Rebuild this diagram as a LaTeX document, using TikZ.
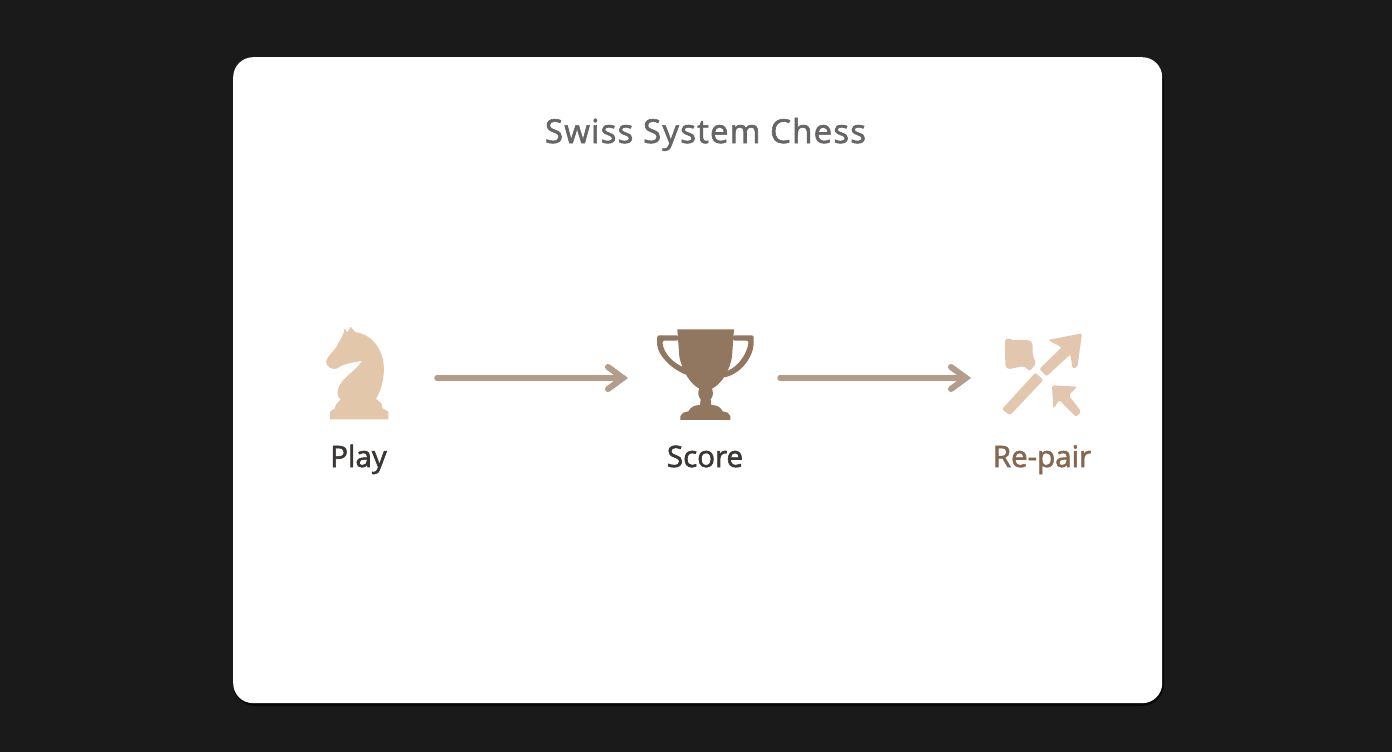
\documentclass[tikz,border=0pt]{standalone}
\usepackage{fontspec}
\setmainfont{Open Sans}
\newfontfamily\titlefont{Open Sans}[FakeBold=1.8,LetterSpace=3.6]
\newfontfamily\labelfont{Open Sans}[FakeBold=2]
\definecolor{bgdark}{HTML}{1A1A1A}
\definecolor{knight}{HTML}{E3C7AB}
\definecolor{trophy}{HTML}{917660}
\definecolor{pair}{HTML}{E3C6AE}
\definecolor{flow}{HTML}{B39C8A}
\definecolor{titlec}{HTML}{666464}
\definecolor{labeld}{HTML}{3A3634}
\definecolor{labelb}{HTML}{85674F}
\tikzset{
  x=1pt,y=-1pt,
  flowline/.style={draw=flow,line width=5.5pt,line cap=round},
  flowhead/.style={draw=flow,line width=6pt,line cap=round,line join=miter},
  steplabel/.style={inner sep=0pt,font=\labelfont\fontsize{29.5}{31}\selectfont,anchor=base},
  iconscope/.style={x=0.3333pt,y=-0.3333pt}
}
\begin{document}
\begin{tikzpicture}
\useasboundingbox (0,0) rectangle (1392,752);
\fill[bgdark] (0,0) rectangle (1392,752);
\fill[black!70!bgdark,rounded corners=22pt] (233,60) rectangle (1164,706);
\node[fill=white,rounded corners=20pt,minimum width=929pt,minimum height=646pt,inner sep=0pt,anchor=north west] (card) at (233,57) {};
\node[inner sep=0pt,anchor=base,text=titlec,font=\titlefont\fontsize{33}{36}\selectfont] (title) at (705.5,143) {Swiss System Chess};
% knight
\begin{scope}[shift={(300,310)},iconscope]
\fill[knight] (90,328) -- (90,305) -- (104,296) -- (108,284) -- (122,268)
 .. controls (110,258) and (110,245) .. (118,228)
 .. controls (133,198) and (165,185) .. (187,152)
 .. controls (160,158) and (130,160) .. (110,176)
 .. controls (95,180) and (80,170) .. (78,155)
 .. controls (80,140) and (105,122) .. (112,105)
 .. controls (120,90) and (130,80) .. (134,55)
 -- (142,68) -- (152,50) -- (165,66)
 .. controls (210,72) and (240,105) .. (250,155)
 .. controls (256,195) and (245,240) .. (228,266)
 -- (244,280) -- (248,295) -- (265,305) -- (265,328) -- cycle;
\end{scope}
% trophy
\begin{scope}[shift={(630,310)},iconscope]
\fill[trophy] (142,58) -- (312,58) -- (306,140)
 .. controls (300,180) and (275,222) .. (246,236)
 .. controls (250,248) and (250,258) .. (242,268) -- (244,285)
 .. controls (262,285) and (272,292) .. (278,304) -- (293,308) -- (301,318) -- (301,330)
 -- (151,330) -- (151,318) -- (160,308) -- (175,304)
 .. controls (182,292) and (192,285) .. (210,285) -- (212,268)
 .. controls (204,258) and (203,248) .. (208,236)
 .. controls (180,222) and (156,180) .. (148,140) -- cycle;
\fill[trophy,rounded corners=2pt] (145,76) -- (82,76) -- (81,100)
 .. controls (85,135) and (120,175) .. (175,197) -- (170,176)
 .. controls (130,160) and (100,130) .. (97,92) -- (145,92) -- cycle;
\fill[trophy,rounded corners=2pt] (309,76) -- (371,76) -- (371,100)
 .. controls (368,140) and (335,190) .. (280,203) -- (288,184)
 .. controls (325,170) and (352,130) .. (356,92) -- (309,92) -- cycle;
\end{scope}
% re-pair
\begin{scope}[shift={(960,310)},iconscope]
\fill[pair,rounded corners=2pt] (135,88) -- (146,83) -- (152,90) -- (208,90) -- (218,100)
 -- (218,135) -- (228,160) -- (210,183) -- (190,168) -- (145,178) -- (136,170) -- cycle;
\fill[pair,rounded corners=2pt] (264,90) -- (366,70) -- (352,172) -- (338,176) -- (331,133)
 -- (260,199) -- (238,177) -- (305,112) -- cycle;
\fill[pair,rounded corners=2pt] (226,188) -- (250,210) -- (150,316) -- (126,298) -- cycle;
\fill[pair,rounded corners=2pt] (276,226) -- (352,230) -- (326,256) -- (364,305) -- (348,321)
 -- (298,270) -- (280,296) -- cycle;
\end{scope}
\node[steplabel,text=labeld] (play) at (358.5,467) {Play};
\node[steplabel,text=labeld] (score) at (705,467) {Score};
\node[steplabel,text=labelb] (repair) at (1042,467) {Re-pair};
\coordinate (playout) at (437,378);
\coordinate (scorein) at (623,378);
\coordinate (scoreout) at (780,378);
\coordinate (repairin) at (966,378);
\draw[flowline] (playout) -- (scorein);
\draw[flowhead] ([shift={(-15,-11)}]scorein) -- (scorein) -- ([shift={(-15,11)}]scorein);
\draw[flowline] (scoreout) -- (repairin);
\draw[flowhead] ([shift={(-15,-11)}]repairin) -- (repairin) -- ([shift={(-15,11)}]repairin);
\end{tikzpicture}
\end{document}
